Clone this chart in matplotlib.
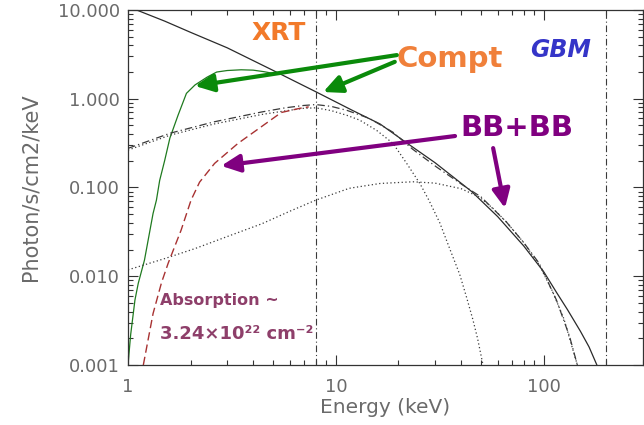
import matplotlib
matplotlib.use("Agg")
import matplotlib.pyplot as plt
from matplotlib.ticker import LogLocator, FixedLocator, FormatStrFormatter, NullFormatter

# --- Model spectra (energy in keV, flux in photon/s/cm2/keV) ---
# Cut-off power-law (Compton) model, unabsorbed
compt_E = [1.1, 1.5, 2.0, 3.0, 5.0, 8.0, 12.0, 16.3, 20.0, 22.7, 30.0, 45.0,
           60.0, 80.0, 100.0, 115.0, 130.0, 150.0, 165.0, 180.0]
compt_F = [10.0, 7.5, 5.6, 3.75, 2.08, 1.2, 0.74, 0.52, 0.37, 0.30, 0.19, 0.09,
           0.047, 0.022, 0.0112, 0.0066, 0.0042, 0.0024, 0.0016, 0.001]

# Compton model with absorption (XRT band)
compt_abs_E = [1.0, 1.03, 1.08, 1.12, 1.2, 1.32, 1.37, 1.42, 1.5, 1.59, 1.74,
               1.91, 2.1, 2.4, 2.67, 3.0, 3.5, 4.0, 4.5, 5.0]
compt_abs_F = [0.001, 0.0022, 0.0054, 0.0083, 0.0152, 0.051, 0.072, 0.12, 0.2,
               0.36, 0.65, 1.15, 1.43, 1.75, 2.0, 2.08, 2.12, 2.1, 2.02, 1.93]

# Two-blackbody model, total
bbsum_E = [1.0, 1.6, 2.6, 4.4, 5.7, 7.0, 8.0, 9.5, 11.3, 14.5, 18.8, 23.4, 30.5,
           40.9, 50.0, 66.0, 80.0, 95.0, 115.0, 133.0, 145.0]
bbsum_F = [0.276, 0.41, 0.55, 0.71, 0.79, 0.84, 0.86, 0.82, 0.74, 0.60, 0.42,
           0.27, 0.17, 0.106, 0.078, 0.041, 0.024, 0.014, 0.0054, 0.0021, 0.001]

# Cooler blackbody component
bb1_E = [1.0, 1.6, 2.6, 4.4, 5.7, 7.0, 8.0, 9.5, 11.3, 13.0, 15.7, 18.8, 21.8,
         25.4, 28.0, 31.6, 35.4, 39.4, 42.5, 45.5, 48.0, 51.0]
bb1_F = [0.264, 0.39, 0.52, 0.665, 0.73, 0.78, 0.79, 0.735, 0.65, 0.575, 0.44,
         0.315, 0.19, 0.11, 0.072, 0.040, 0.020, 0.0105, 0.0058, 0.0033, 0.0020,
         0.001]

# Hotter blackbody component
bb2_E = [1.0, 1.5, 2.1, 3.0, 4.4, 6.0, 8.0, 11.6, 16.3, 23.5, 30.0, 40.0, 49.0,
         57.0, 66.0, 80.0, 95.0, 110.0, 125.0, 145.0]
bb2_F = [0.0118, 0.0158, 0.0205, 0.028, 0.039, 0.054, 0.072, 0.098, 0.111,
         0.116, 0.112, 0.097, 0.078, 0.058, 0.041, 0.024, 0.0135, 0.0068,
         0.0033, 0.001]

# Two-blackbody model with absorption (XRT band)
bb_abs_E = [1.185, 1.32, 1.45, 1.56, 1.8, 2.01, 2.21, 2.61, 3.38, 4.38, 5.46,
            6.7, 7.4]
bb_abs_F = [0.001, 0.0038, 0.0085, 0.014, 0.033, 0.072, 0.115, 0.187, 0.314,
            0.484, 0.70, 0.78, 0.81]

# Instrument band edges (keV)
band_edges = [8.0, 200.0]

y_ticks = [0.001, 0.01, 0.1, 1.0, 10.0]
x_ticks = [1, 10, 100]
x_tick_labels = ["1", "10", "100"]

AX_COLOR = "#333333"
LABEL_COLOR = "#6a6a6a"

fig = plt.figure(figsize=(6.44, 4.25), dpi=100)
ax = fig.add_axes([128 / 644, 60 / 425, 515 / 644, 355 / 425])
ax.set_xscale("log")
ax.set_yscale("log")
ax.set_xlim(1, 300)
ax.set_ylim(0.001, 10)

ax.plot(compt_E, compt_F, color="#2a2a2a", lw=0.9)
ax.plot(compt_abs_E, compt_abs_F, color="#1f7a1f", lw=0.9)
ax.plot(bbsum_E, bbsum_F, color="#3a3a3a", lw=0.9, dashes=(6, 2.5, 1, 2.5))
ax.plot(bb1_E, bb1_F, color="#3a3a3a", lw=0.9, dashes=(1, 2))
ax.plot(bb2_E, bb2_F, color="#3a3a3a", lw=0.9, dashes=(1, 2))
ax.plot(bb_abs_E, bb_abs_F, color="#a83232", lw=1.0, dashes=(6, 3))
for e in band_edges:
    ax.axvline(e, color="#3a3a3a", lw=0.8, dashes=(6, 2.5, 1, 2.5))

# Axes styling: ticks inside on all four sides
for s in ax.spines.values():
    s.set_color(AX_COLOR)
    s.set_linewidth(0.9)
ax.yaxis.set_major_locator(FixedLocator(y_ticks))
ax.yaxis.set_major_formatter(FormatStrFormatter("%.3f"))
ax.yaxis.set_minor_locator(LogLocator(base=10, subs=range(2, 10), numticks=20))
ax.yaxis.set_minor_formatter(NullFormatter())
ax.xaxis.set_major_locator(FixedLocator(x_ticks))
ax.set_xticklabels(x_tick_labels)
ax.xaxis.set_minor_locator(LogLocator(base=10, subs=range(2, 10), numticks=20))
ax.xaxis.set_minor_formatter(NullFormatter())
ax.tick_params(which="both", direction="in", top=True, right=True,
               color=AX_COLOR, width=0.8)
ax.tick_params(which="major", length=7, labelsize=13, labelcolor=LABEL_COLOR, pad=6)
ax.tick_params(which="minor", length=3.5)
ax.tick_params(axis="x", which="major", pad=9)

ax.set_xlabel("Energy (keV)", fontsize=14.5, color=LABEL_COLOR, labelpad=2)
ax.set_ylabel("Photon/s/cm2/keV", fontsize=15, color=LABEL_COLOR, labelpad=12)

# Labels
bold = dict(fontweight="bold", family="DejaVu Sans")
ax.text(0.292, 0.935, "XRT", transform=ax.transAxes, ha="center", va="center",
        color="#f27a2a", fontsize=18, **bold)
ax.text(0.625, 0.862, "Compt", transform=ax.transAxes, ha="center", va="center",
        color="#f0803a", fontsize=21, **bold)
ax.text(0.839, 0.887, "GBM", transform=ax.transAxes, ha="center", va="center",
        color="#3535c8", fontsize=17, style="italic", **bold)
ax.text(0.755, 0.668, "BB+BB", transform=ax.transAxes, ha="center", va="center",
        color="#800080", fontsize=21, **bold)
ax.text(0.062, 0.183, "Absorption ~", transform=ax.transAxes, ha="left",
        va="center", color="#8e3f6a", fontsize=11.5, **bold)
ax.text(0.062, 0.087, "3.24\u00d710\u00b2\u00b2 cm\u207b\u00b2", transform=ax.transAxes,
        ha="left", va="center", color="#8e3f6a", fontsize=13, **bold)

def arrow(tail, tip, color):
    ax.annotate("", xy=tip, xycoords="axes fraction", xytext=tail,
                textcoords="axes fraction",
                arrowprops=dict(arrowstyle="-|>,head_length=0.8,head_width=0.38",
                                mutation_scale=14, color=color, lw=3,
                                shrinkA=0, shrinkB=0))

arrow((0.522, 0.873), (0.130, 0.786), "#0a8a0a")
arrow((0.518, 0.854), (0.379, 0.769), "#0a8a0a")
arrow((0.635, 0.645), (0.181, 0.561), "#800080")
arrow((0.709, 0.611), (0.732, 0.442), "#800080")

fig.savefig("out.png", dpi=100)
